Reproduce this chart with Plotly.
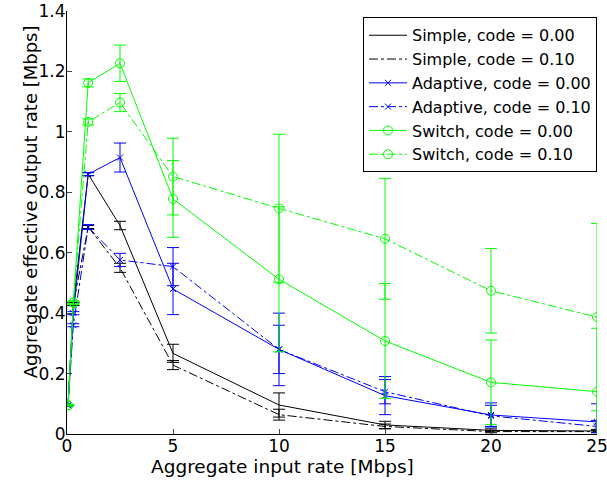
import plotly.graph_objects as go

x_rate = [0.05, 0.3, 1, 2.5, 5, 10, 15, 20, 25]

simple_0 = [0.095, 0.43, 0.86, 0.69, 0.267, 0.096, 0.03, 0.012, 0.01]
simple_0_err = [0.002, 0.005, 0.005, 0.014, 0.03, 0.04, 0.012, 0.005, 0.005]
simple_1 = [0.095, 0.43, 0.685, 0.55, 0.228, 0.064, 0.025, 0.008, 0.008]
simple_1_err = [0.002, 0.005, 0.005, 0.015, 0.015, 0.018, 0.008, 0.004, 0.004]
adaptive_0 = [0.095, 0.40, 0.86, 0.915, 0.48, 0.28, 0.127, 0.063, 0.04]
adaptive_0_err = [0.002, 0.005, 0.005, 0.048, 0.085, 0.12, 0.063, 0.04, 0.06]
adaptive_1 = [0.095, 0.36, 0.685, 0.576, 0.554, 0.28, 0.14, 0.06, 0.025]
adaptive_1_err = [0.002, 0.005, 0.008, 0.022, 0.063, 0.08, 0.04, 0.035, 0.02]
switch_0 = [0.095, 0.435, 1.162, 1.227, 0.778, 0.512, 0.308, 0.171, 0.14]
switch_0_err = [0.002, 0.005, 0.013, 0.06, 0.127, 0.24, 0.19, 0.14, 0.21]
switch_1 = [0.095, 0.435, 1.033, 1.097, 0.852, 0.747, 0.646, 0.474, 0.387]
switch_1_err = [0.002, 0.005, 0.01, 0.03, 0.127, 0.245, 0.2, 0.14, 0.31]

series_names = ["Simple, code = 0.00", "Simple, code = 0.10",
                "Adaptive, code = 0.00", "Adaptive, code = 0.10",
                "Switch, code = 0.00", "Switch, code = 0.10"]

x_ticks = [0, 5, 10, 15, 20, 25]
y_ticks = [0, 0.2, 0.4, 0.6, 0.8, 1.0, 1.2, 1.4]
y_tick_labels = ["0", "0.2", "0.4", "0.6", "0.8", "1", "1.2", "1.4"]

x_title = "Aggregate input rate [Mbps]"
y_title = "Aggregate effective output rate [Mbps]"

FONT = "DejaVu Sans, Verdana, sans-serif"

styles = [
    ("#000000", "solid", None),
    ("#000000", "dashdot", None),
    ("#0000ff", "solid", "x-thin"),
    ("#0000ff", "dashdot", "x-thin"),
    ("#00ff00", "solid", "circle-open"),
    ("#00ff00", "dashdot", "circle-open"),
]
ys = [simple_0, simple_1, adaptive_0, adaptive_1, switch_0, switch_1]
errs = [simple_0_err, simple_1_err, adaptive_0_err, adaptive_1_err, switch_0_err, switch_1_err]

fig = go.Figure()
for name, y, e, (color, dash, sym) in zip(series_names, ys, errs, styles):
    mode = "lines+markers" if sym else "lines"
    marker = dict(symbol=sym, size=9 if sym == "circle-open" else 6, color=color,
                  line=dict(color=color, width=1)) if sym else None
    fig.add_trace(go.Scatter(
        x=x_rate, y=y, name=name, mode=mode,
        line=dict(color=color, dash=dash, width=1),
        marker=marker,
        error_y=dict(type="data", array=e, visible=True, color=color,
                     thickness=1, width=6),
    ))

fig.update_layout(
    width=607, height=483,
    margin=dict(l=67, r=10, t=11, b=49),
    paper_bgcolor="white", plot_bgcolor="white",
    font=dict(family=FONT, size=16, color="black"),
    legend=dict(x=1, y=0.985, xanchor="right", yanchor="top",
                bordercolor="black", borderwidth=1, bgcolor="white",
                font=dict(family=FONT, size=16), tracegroupgap=0,
                itemwidth=38),
    showlegend=True,
    annotations=[
        dict(text=x_title, xref="paper", yref="paper", x=0.4057, y=-0.0775,
             xanchor="center", yanchor="middle", showarrow=False,
             font=dict(family=FONT, size=18.5)),
        dict(text=y_title, xref="paper", yref="paper", x=-0.0698, y=0.548,
             xanchor="center", yanchor="middle", showarrow=False, textangle=-90,
             font=dict(family=FONT, size=18)),
    ],
)
fig.update_xaxes(
    range=[0, 25], tickvals=x_ticks, ticks="inside", ticklen=5,
    showline=True, linecolor="black", linewidth=1, showgrid=False,
    zeroline=False, automargin=False, tickfont=dict(size=17),
    ticklabelstandoff=-3, ticklabeloverflow="allow",
)
fig.update_yaxes(
    range=[0, 1.4], tickvals=y_ticks, ticktext=y_tick_labels, ticks="inside",
    ticklen=5, showline=True, linecolor="black", linewidth=1, showgrid=False,
    zeroline=False, automargin=False, tickfont=dict(size=17),
    ticklabelstandoff=-3, ticklabeloverflow="allow",
)

fig.write_html("out.html", config={"displayModeBar": False},
               post_script="document.body.style.margin='0';document.body.style.padding='0';")
